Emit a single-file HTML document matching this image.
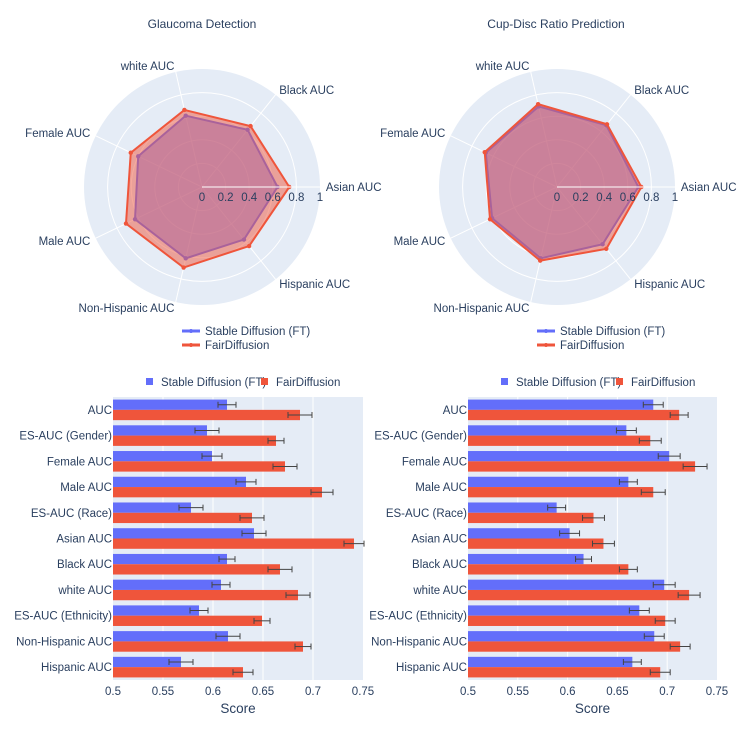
<!DOCTYPE html>
<html><head><meta charset="utf-8">
<style>
body{margin:0;background:#fff;width:749px;height:731px;overflow:hidden;font-family:"Liberation Sans",sans-serif;}
svg text{font-family:"Liberation Sans",sans-serif;fill:#2a3f5f;}
</style></head>
<body>
<svg id="chart" width="749" height="731" viewBox="0 0 749 731" xmlns="http://www.w3.org/2000/svg">
<text x="202" y="28" font-size="12" text-anchor="middle">Glaucoma Detection</text>
<text x="556" y="28" font-size="12" text-anchor="middle">Cup-Disc Ratio Prediction</text>
</svg>
<script>
const radarAxes = ["Asian AUC","Black AUC","white AUC","Female AUC","Male AUC","Non-Hispanic AUC","Hispanic AUC"];
const radarTicks = [0,0.2,0.4,0.6,0.8,1];
const glauRadarSD = [0.64,0.62,0.62,0.60,0.63,0.62,0.57];
const glauRadarFD = [0.74,0.66,0.67,0.67,0.715,0.70,0.64];
const cdrRadarSD = [0.69,0.67,0.70,0.67,0.61,0.62,0.62];
const cdrRadarFD = [0.715,0.68,0.72,0.68,0.63,0.64,0.67];

const barCats = ["AUC","ES-AUC (Gender)","Female AUC","Male AUC","ES-AUC (Race)","Asian AUC","Black AUC","white AUC","ES-AUC (Ethnicity)","Non-Hispanic AUC","Hispanic AUC"];
const barTicks = [0.5,0.55,0.6,0.65,0.7,0.75];
const glauSD = [0.614,0.594,0.599,0.633,0.578,0.641,0.614,0.608,0.586,0.615,0.568];
const glauSDerr = [0.009,0.012,0.010,0.010,0.012,0.012,0.008,0.009,0.009,0.012,0.012];
const glauFD = [0.687,0.663,0.672,0.709,0.639,0.741,0.667,0.685,0.649,0.690,0.630];
const glauFDerr = [0.012,0.008,0.012,0.011,0.012,0.010,0.012,0.012,0.008,0.008,0.010];
const cdrSD = [0.686,0.659,0.702,0.661,0.589,0.602,0.616,0.697,0.672,0.687,0.665];
const cdrSDerr = [0.010,0.010,0.011,0.009,0.009,0.010,0.008,0.011,0.010,0.010,0.009];
const cdrFD = [0.712,0.683,0.728,0.686,0.626,0.636,0.661,0.722,0.698,0.713,0.693];
const cdrFDerr = [0.009,0.011,0.012,0.012,0.011,0.011,0.009,0.011,0.010,0.010,0.010];

const NS="http://www.w3.org/2000/svg";
const svg=document.getElementById('chart');
function mk(tag,attrs,parent){const e=document.createElementNS(NS,tag);for(const k in attrs)e.setAttribute(k,attrs[k]);(parent||svg).appendChild(e);return e;}
const BLUE="#636efa",RED="#ef553b";

function radar(cx,cy,R,sd,fd,key){
  const g=mk('g',{});
  
  
  const bg=mk('circle',{cx:cx,cy:cy,r:R,fill:'#e5ecf6'},g);
  
  
  radarTicks.forEach(t=>{if(t>0&&t<1)mk('circle',{cx:cx,cy:cy,r:R*t,fill:'none',stroke:'#fff','stroke-width':1},g);});
  const ang=i=>i*2*Math.PI/radarAxes.length;
  const pt=(v,i)=>[cx+R*v*Math.cos(ang(i)),cy-R*v*Math.sin(ang(i))];
  radarAxes.forEach((a,i)=>{
    const p=pt(1,i);
    mk('line',{x1:cx,y1:cy,x2:p[0],y2:p[1],stroke:'#fff','stroke-width':1},g);
    const q=pt(1.05,i);
    const c=Math.cos(ang(i));
    const anchor=c>0.01?'start':(c<-0.01?'end':'middle');
    const t=mk('text',{x:q[0],y:q[1]+4,'font-size':11.5,'text-anchor':anchor},g);
    t.textContent=a;
    
    
  });
  [[sd,BLUE,'rgba(99,110,250,0.5)','sd'],[fd,RED,'rgba(239,85,59,0.5)','fd']].forEach(([vals,col,fill,nm])=>{
    const pts=vals.map((v,i)=>pt(v,i).join(',')).join(' ');
    const poly=mk('polygon',{points:pts,fill:fill,stroke:col,'stroke-width':2},g);
    
    
    vals.forEach((v,i)=>{const p=pt(v,i);mk('circle',{cx:p[0],cy:p[1],r:2.2,fill:col},g);});
  });
  mk('line',{x1:cx,y1:cy,x2:cx+R,y2:cy,stroke:'#fff','stroke-width':1},g);
  radarTicks.forEach(t=>{
    const tx=mk('text',{x:cx+R*t,y:cy+14,'font-size':11.5,'text-anchor':'middle'},g);
    tx.textContent=String(t);
    
    
  });
  const lx=cx-20, ly=cy+144;
  [[BLUE,'Stable Diffusion (FT)'],[RED,'FairDiffusion']].forEach(([col,lab],k)=>{
    const y=ly+k*14;
    mk('line',{x1:lx,y1:y,x2:lx+18,y2:y,stroke:col,'stroke-width':3},g);
    mk('circle',{cx:lx+9,cy:y,r:2,fill:col},g);
    const t=mk('text',{x:lx+23,y:y+4,'font-size':11.5},g);
    t.textContent=lab;
    
    
  });
}
radar(202,187,118,glauRadarSD,glauRadarFD,'glaucoma');
radar(557,187,118,cdrRadarSD,cdrRadarFD,'cdr');

function bars(x0,x1,sd,sde,fd,fde,key){
  const top=397,bot=680;
  const g=mk('g',{});
  
  
  const xs=v=>x0+(v-0.5)/(0.75-0.5)*(x1-x0);
  const bg=mk('rect',{x:x0,y:top,width:x1-x0,height:bot-top,fill:'#e5ecf6'},g);
  
  
  barTicks.forEach(t=>{
    const x=xs(t);
    if(t>0.5&&t<0.75)mk('line',{x1:x,y1:top,x2:x,y2:bot,stroke:'#fff','stroke-width':1},g);
    const tx=mk('text',{x:x,y:bot+15,'font-size':11.5,'text-anchor':'middle'},g);
    tx.textContent=String(t);
    
    
  });
  const xt=mk('text',{x:(x0+x1)/2,y:bot+33,'font-size':13.5,'text-anchor':'middle'},g);
  xt.textContent='Score';
  
  
  const band=(bot-top)/barCats.length, bh=band*0.4;
  barCats.forEach((c,i)=>{
    const yc=top+band*i+band/2;
    const lt=mk('text',{x:x0-1,y:yc+4,'font-size':11.5,'text-anchor':'end'},g);
    lt.textContent=c;
    
    
    [[sd[i],sde[i],BLUE,yc-bh,'sd'],[fd[i],fde[i],RED,yc,'fd']].forEach(([v,e,col,y,nm])=>{
      const r=mk('rect',{x:x0,y:y,width:Math.max(0,xs(v)-x0),height:bh,fill:col},g);
      
      
      const ym=y+bh/2, a=xs(v-e), b=Math.min(xs(v+e),x1+2);
      mk('line',{x1:a,y1:ym,x2:b,y2:ym,stroke:'#444','stroke-width':1},g);
      mk('line',{x1:a,y1:ym-3,x2:a,y2:ym+3,stroke:'#444','stroke-width':1},g);
      mk('line',{x1:b,y1:ym-3,x2:b,y2:ym+3,stroke:'#444','stroke-width':1},g);
    });
  });
  const lx=x0+33;
  [[BLUE,'Stable Diffusion (FT)',0],[RED,'FairDiffusion',115]].forEach(([col,lab,dx])=>{
    mk('rect',{x:lx+dx,y:378,width:7,height:7,fill:col},g);
    const t=mk('text',{x:lx+dx+15,y:386,'font-size':11.5},g);
    t.textContent=lab;
    
    
  });
}
bars(113,363,glauSD,glauSDerr,glauFD,glauFDerr,'glaucoma');
bars(468,717,cdrSD,cdrSDerr,cdrFD,cdrFDerr,'cdr');
</script>
</body></html>
